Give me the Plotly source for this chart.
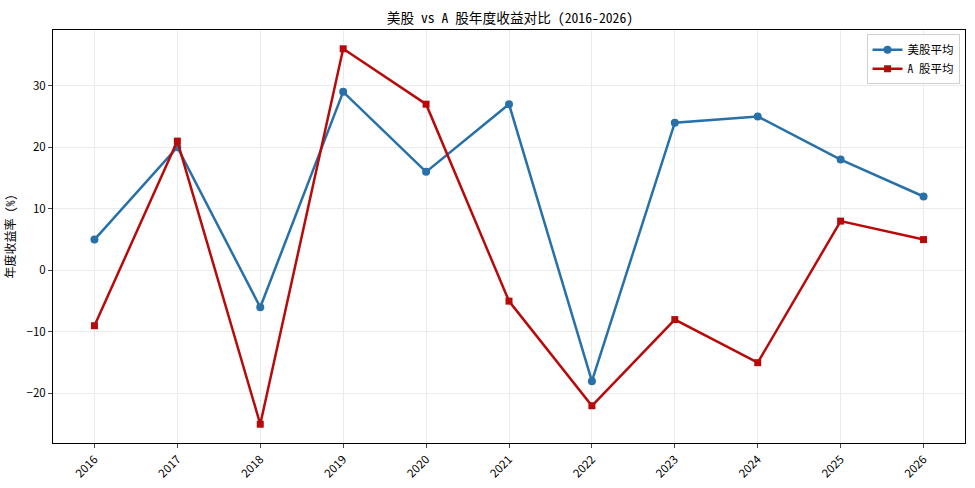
import plotly.graph_objects as go

years = [2016, 2017, 2018, 2019, 2020, 2021, 2022, 2023, 2024, 2025, 2026]
us_avg = [5, 20, -6, 29, 16, 27, -18, 24, 25, 18, 12]
a_avg = [-9, 21, -25, 36, 27, -5, -22, -8, -15, 8, 5]

FONT = "Noto Sans CJK SC, DejaVu Sans, sans-serif"
MONO = "Noto Sans Mono CJK SC, DejaVu Sans Mono, Noto Sans CJK SC, monospace"
fig = go.Figure()
fig.add_trace(go.Scatter(x=years, y=us_avg, mode="lines+markers", name="美股平均",
                         line=dict(color="#2871A8", width=2.5),
                         marker=dict(symbol="circle", size=8, color="#2871A8")))
fig.add_trace(go.Scatter(x=years, y=a_avg, mode="lines+markers", name="A 股平均",
                         line=dict(color="#B80A0A", width=2.5),
                         marker=dict(symbol="square", size=7, color="#B80A0A")))

fig.update_layout(
    width=975, height=488,
    margin=dict(l=53, r=10, t=30, b=45),
    paper_bgcolor="white", plot_bgcolor="white",
    font=dict(family=FONT, size=11, color="black"),
    title=dict(text="美股 vs A 股年度收益对比 (2016-2026)", x=0.523, xanchor="center",
               yref="container", y=1 - 18 / 488, yanchor="middle",
               font=dict(size=13.7, family=MONO)),
    showlegend=True,
    legend=dict(x=0.994, y=0.99, xanchor="right", yanchor="top",
                bordercolor="#d0d0d0", borderwidth=1, bgcolor="rgba(255,255,255,0.8)",
                font=dict(size=11.5, family=MONO)),
    xaxis=dict(range=[2015.5, 2026.5], tickmode="array", tickvals=years,
               ticktext=[str(y) for y in years], tickangle=-45, automargin=False,
               showgrid=True, gridcolor="#ebebeb", ticks="outside", ticklen=4,
               showline=True, linecolor="black", linewidth=1, mirror=True,
               zeroline=False, tickfont=dict(size=11.5)),
    yaxis=dict(range=[-28.05, 39.05], tickvals=[-20, -10, 0, 10, 20, 30],
               automargin=False,
               title=dict(text="年度收益率 (%)", font=dict(size=12, family=MONO), standoff=8),
               showgrid=True, gridcolor="#ebebeb", ticks="outside", ticklen=4,
               showline=True, linecolor="black", linewidth=1, mirror=True,
               zeroline=False, tickfont=dict(size=11.5)),
)
fig.write_html("out.html")
